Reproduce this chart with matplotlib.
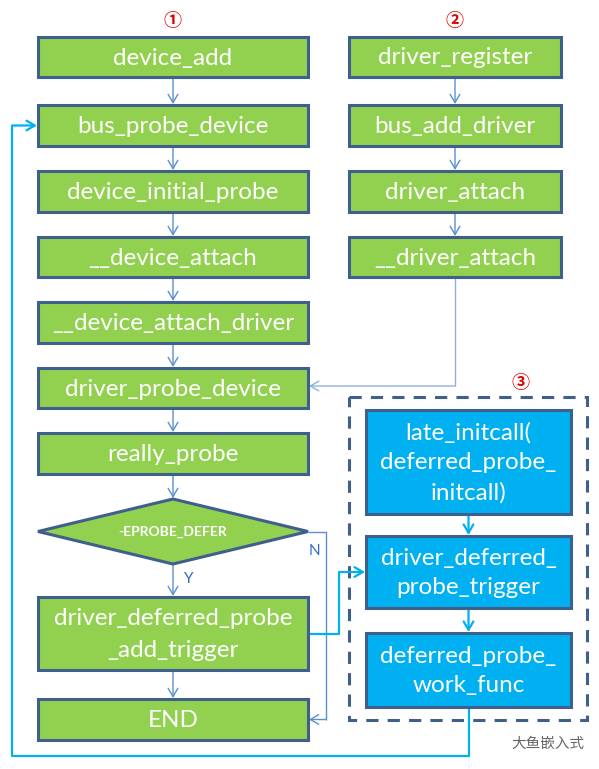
import matplotlib
matplotlib.use("Agg")
import matplotlib.pyplot as plt
from matplotlib.patches import Rectangle, Polygon

plt.rcParams['font.family'] = ['Lato', 'DejaVu Sans']

# labels
left_labels = ["device_add", "bus_probe_device", "device_initial_probe",
               "__device_attach", "__device_attach_driver",
               "driver_probe_device", "really_probe"]
right_labels = ["driver_register", "bus_add_driver", "driver_attach", "__driver_attach"]
blue_labels = ["late_initcall(\ndeferred_probe_\ninitcall)",
               "driver_deferred_\nprobe_trigger",
               "deferred_probe_\nwork_func"]
decision_label = "-EPROBE_DEFER"
add_trigger_label = "driver_deferred_probe\n_add_trigger"
end_label = "END"
markers = ["①", "②", "③"]
watermark = "大鱼嵌入式"

# layout (pixels)
W, H = 599, 769
left_x0, left_x1 = 38, 308
right_x0, right_x1 = 349, 561
blue_x0, blue_x1 = 366, 571
left_rows = [(37, 77), (105, 146), (171, 212), (237, 277), (302, 343), (368, 408), (433, 474)]
right_rows = [(37, 77), (105, 146), (171, 212), (237, 277)]
blue_rows = [(410, 514), (536, 608), (633, 707)]
diamond_y = (499, 564)
trigger_row = (597, 670)
end_row = (699, 740)

GREEN = "#92d050"
BLUE = "#00b0f0"
EDGE = "#3f5f8c"
THIN = "#5b8fd0"

fig = plt.figure(figsize=(W / 100, H / 100), dpi=100)
ax = fig.add_axes([0, 0, 1, 1])
ax.set_xlim(0, W)
ax.set_ylim(H, 0)
ax.axis("off")


def box(x0, x1, y0, y1, text, color, fs=17.5, lsp=1.05):
    ax.add_patch(Rectangle((x0, y0), x1 - x0, y1 - y0, facecolor=color,
                           edgecolor=EDGE, linewidth=2.2, zorder=3))
    ax.text((x0 + x1) / 2, (y0 + y1) / 2 + 1, text, color="white", fontsize=fs,
            ha="center", va="center", linespacing=lsp, zorder=4)


def arrow(pts, color=THIN, lw=1.0):
    xs = [p[0] for p in pts[:-1]]
    ys = [p[1] for p in pts[:-1]]
    if len(pts) > 2:
        ax.plot(xs, ys, color=color, lw=lw, solid_capstyle="butt", zorder=2)
    ax.annotate("", xy=pts[-1], xytext=pts[-2],
                arrowprops=dict(arrowstyle="->,head_length=0.6,head_width=0.35",
                                color=color, lw=lw, shrinkA=0, shrinkB=0), zorder=2)


lcx = (left_x0 + left_x1) / 2
rcx = (right_x0 + right_x1) / 2
bcx = (blue_x0 + blue_x1) / 2

for (y0, y1), lab in zip(left_rows, left_labels):
    box(left_x0, left_x1, y0, y1, lab, GREEN)
for (y0, y1), lab in zip(right_rows, right_labels):
    box(right_x0, right_x1, y0, y1, lab, GREEN)
for (y0, y1), lab in zip(blue_rows, blue_labels):
    box(blue_x0, blue_x1, y0, y1, lab, BLUE, lsp=1.5)
box(left_x0, left_x1, *trigger_row, add_trigger_label, GREEN, lsp=1.6)
box(left_x0, left_x1, *end_row, end_label, GREEN)

# decision diamond
dy0, dy1 = diamond_y
dmid = (dy0 + dy1) / 2
ax.add_patch(Polygon([(left_x0, dmid), (lcx, dy0), (left_x1, dmid), (lcx, dy1)],
                     closed=True, facecolor=GREEN, edgecolor=EDGE, linewidth=2.2, zorder=3))
ax.text(lcx, dmid, decision_label, color="white", fontsize=10, fontweight="bold",
        ha="center", va="center", zorder=4)

# dashed frame
ax.add_patch(Rectangle((349, 397), 238, 323, facecolor="none", edgecolor=EDGE,
                       linewidth=2.2, linestyle=(0, (4, 3)), zorder=1))

# vertical arrows in left column
for (a0, a1), (b0, b1) in zip(left_rows[:-1], left_rows[1:]):
    arrow([(lcx, a1 + 1), (lcx, b0 - 1)])
arrow([(lcx, left_rows[-1][1] + 1), (lcx, dy0 - 1)])
arrow([(lcx, dy1), (lcx, trigger_row[0] - 1)])
arrow([(lcx, trigger_row[1] + 1), (lcx, end_row[0] - 1)])

for (a0, a1), (b0, b1) in zip(right_rows[:-1], right_rows[1:]):
    arrow([(rcx, a1 + 1), (rcx, b0 - 1)])

# __driver_attach -> driver_probe_device
dpd = left_rows[5]
arrow([(rcx, right_rows[-1][1] + 1), (rcx, (dpd[0] + dpd[1]) / 2 - 2),
       (left_x1 + 1, (dpd[0] + dpd[1]) / 2 - 2)], color="#8fb0dc")

# N branch -> END
end_mid = (end_row[0] + end_row[1]) / 2
arrow([(left_x1, dmid), (326, dmid), (326, end_mid), (left_x1 + 1, end_mid)])
ax.text(314, 551, "N", color="#2f6fbf", fontsize=11, ha="center", va="center")
ax.text(189, 579, "Y", color="#2f6fbf", fontsize=11, ha="center", va="center")

# blue column arrows
for (a0, a1), (b0, b1) in zip(blue_rows[:-1], blue_rows[1:]):
    arrow([(bcx, a1 + 1), (bcx, b0 - 1)], color=BLUE, lw=1.6)

# add_trigger -> driver_deferred_probe_trigger
tr_mid = (trigger_row[0] + trigger_row[1]) / 2
arrow([(left_x1, tr_mid), (339, tr_mid), (339, 572), (blue_x0 - 1, 572)], color=BLUE, lw=1.6)

# work_func -> bus_probe_device
bpd = left_rows[1]
arrow([(bcx, blue_rows[-1][1]), (bcx, 756), (12, 756), (12, (bpd[0] + bpd[1]) / 2),
       (left_x0 - 1, (bpd[0] + bpd[1]) / 2)], color=BLUE, lw=1.6)

# circled numbers
mfont = ['Noto Sans CJK SC', 'DejaVu Sans']
for (mx, my), m in zip([(lcx, 20), (rcx, 20), (520, 382)], markers):
    ax.text(mx, my, m, color="#e00000", fontsize=13, fontweight="bold",
            ha="center", va="center", family=mfont)

# watermark
ax.text(548, 744, watermark, color="#666666", fontsize=10.5, ha="center", va="center",
        family=mfont, zorder=5)

fig.savefig("out.png", dpi=100)
